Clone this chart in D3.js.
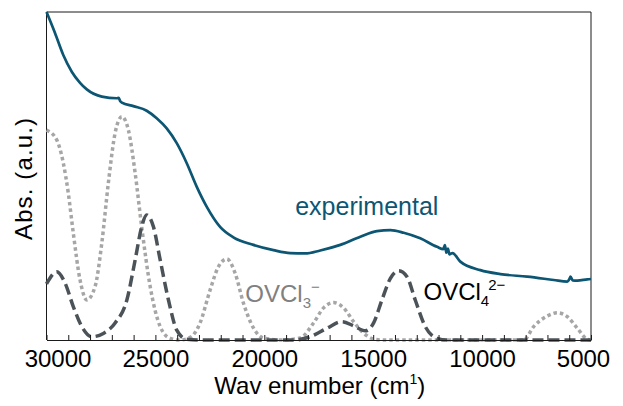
<!DOCTYPE html>
<html><head><meta charset="utf-8">
<script src="https://cdn.jsdelivr.net/npm/d3@7"></script>
<style>html,body{margin:0;padding:0;background:#fff;} svg{display:block;}</style>
</head><body>
<svg id="chart" width="623" height="406"></svg>
<script>
// ---- data (wavenumber in cm-1, absorbance in arbitrary units) ----
const expWn  = [30000,29610,29230,28840,28460,28150,27460,26770,26690,26620,26540,26010,25400,24940,24480,24020,23560,23100,22640,22030,21420,20500,19580,18810,18120,17430,16510,15590,14830,14210,13600,12840,12070,11780,11710,11640,11570,11500,11360,11000,10080,9160,7930,6710,6090,5990,5940,5840,5630,5170,5000];
const expAbs = [100,93.6,86.9,81.8,78.4,76.4,74.2,73.7,73.8,72.9,72.4,71.3,69.9,67.6,64.5,60.0,53.9,46.7,40.6,34.5,31.3,29.0,27.4,26.5,26.4,27.3,29.0,31.5,33.2,33.5,32.7,31.0,28.4,27.7,28.9,26.6,27.9,26.1,26.5,23.9,21.3,20.1,19.3,18.3,17.8,18.6,19.3,18.2,18.1,18.5,18.6];

const ovcl3Wn  = [30000,29530,29230,29000,28770,28460,28150,27770,27460,27160,26850,26540,26240,25930,25630,25240,24780,24320,23870,23400,22950,22490,22110,21720,21340,20960,20500,20040,19130,18350,17740,17280,16820,16360,15900,15440,14980,14540,12000,10000,8090,7630,7010,6550,6090,5630,5170,5000];
const ovcl3Abs = [64.0,61.0,54.0,44.8,32.6,18.3,12.2,16.3,29.6,47.9,63.1,68.1,64.0,50.9,34.5,16.3,4.1,0.5,0,0.8,5.2,15.2,22.3,24.7,20.4,11.3,3.7,0.6,0,0.6,5.2,9.8,11.4,9.8,5.6,2.1,0.3,0,0,0,0,4.1,7.3,8.3,7.1,3.6,0.2,0];

const ovcl4Wn  = [30000,29530,29150,28770,28380,27920,27390,26850,26310,25930,25630,25400,25090,24780,24400,24020,23560,22950,20000,18660,17890,17120,16430,15900,15360,14980,14600,14210,13830,13450,13070,12610,12070,11610,9000,7000,5000];
const ovcl4Abs = [17.1,20.8,17.4,10.2,4.1,1.0,2.0,5.2,12.2,24.4,34.5,38.1,34.5,24.4,12.2,3.0,0.2,0,0,0,1.0,3.6,5.6,4.3,2.8,5.2,12.2,18.8,21.1,19.3,12.2,4.1,0.5,0,0,0,0];

const xTickValues = d3.range(30000, 4999, -1000);
const xLabelValues = [30000, 25000, 20000, 15000, 10000, 5000];

// ---- layout ----
const svg = d3.select("#chart");
const L = 46.5, R = 591, T = 12, B = 340;
const FONT = "'Liberation Sans', Arial, sans-serif";

const x = d3.scaleLinear().domain([30000, 5000]).range([L, R]);
const y = d3.scaleLinear().domain([0, 100]).range([B, T]);

// frame (top, left, right)
svg.append("path")
  .attr("d", `M${L},${B}V${T}H${R}V${B}`)
  .attr("fill", "none").attr("stroke", "#1a1a1a").attr("stroke-width", 1);

const line = d3.line().x(d => x(d[0])).y(d => y(d[1])).curve(d3.curveMonotoneX);
const zip = (a, b) => a.map((v, i) => [v, b[i]]);

// OVCl3- (light grey dotted)
svg.append("path").datum(zip(ovcl3Wn, ovcl3Abs))
  .attr("d", line).attr("fill", "none")
  .attr("stroke", "#a6a6a6").attr("stroke-width", 3.5)
  .attr("stroke-dasharray", "3.5,3");

// OVCl4 2- (dark grey dashed)
svg.append("path").datum(zip(ovcl4Wn, ovcl4Abs))
  .attr("d", line).attr("fill", "none")
  .attr("stroke", "#4b5358").attr("stroke-width", 3.5)
  .attr("stroke-dasharray", "11,5");

// experimental (teal solid)
svg.append("path").datum(zip(expWn, expAbs))
  .attr("d", line)
  .attr("fill", "none")
  .attr("stroke", "#0c5674").attr("stroke-width", 2.7).attr("stroke-linejoin", "round");

// x axis
const xAxis = d3.axisBottom(x)
  .tickValues(xTickValues)
  .tickSizeInner(-5).tickSizeOuter(0)
  .tickPadding(10)
  .tickFormat(d => xLabelValues.includes(d) ? String(d) : "");
const gx = svg.append("g").attr("transform", `translate(0,${B})`).call(xAxis);
gx.select(".domain").attr("stroke", "#1a1a1a").attr("stroke-width", 1);
gx.selectAll(".tick line").attr("stroke", "#1a1a1a");
gx.selectAll(".tick text")
  .attr("font-family", FONT).attr("font-size", 24).attr("fill", "#000")
  .attr("dx", d => d === 30000 ? 11 : (d === 5000 ? -8 : 0));

// axis titles
const xt = svg.append("text")
  .attr("x", (L + R) / 2 + 1).attr("y", 394)
  .attr("text-anchor", "middle")
  .attr("font-family", FONT).attr("font-size", 24).attr("fill", "#000");
xt.append("tspan").text("Wav enumber (cm");
xt.append("tspan").attr("font-size", 14).attr("dy", -10).text("1");
xt.append("tspan").attr("dy", 10).text(")");

svg.append("text")
  .attr("transform", `translate(32,${(T + B) / 2 + 3}) rotate(-90)`)
  .attr("text-anchor", "middle")
  .attr("font-family", FONT).attr("font-size", 24).attr("fill", "#000")
  .attr("textLength", 122).attr("lengthAdjust", "spacing")
  .text("Abs. (a.u.)");

// curve labels
svg.append("text")
  .attr("x", x(18580)).attr("y", y(38.1))
  .attr("font-family", FONT).attr("font-size", 25).attr("fill", "#0c5674")
  .text("experimental");

const l3 = svg.append("text")
  .attr("x", x(20870)).attr("y", y(11.7))
  .attr("font-family", FONT).attr("font-size", 24).attr("fill", "#808080");
l3.append("tspan").text("OVCl");
l3.append("tspan").attr("font-size", 15).attr("dy", 6).text("3");
l3.append("tspan").attr("font-size", 15).attr("dy", -16).text("\u2212");

const l4 = svg.append("text")
  .attr("x", x(12690)).attr("y", y(12.2))
  .attr("font-family", FONT).attr("font-size", 24).attr("fill", "#000");
l4.append("tspan").text("OVCl");
l4.append("tspan").attr("font-size", 15).attr("dy", 6).text("4");
l4.append("tspan").attr("font-size", 15).attr("dx", -1).attr("dy", -16).text("2\u2212");
</script>
</body></html>
